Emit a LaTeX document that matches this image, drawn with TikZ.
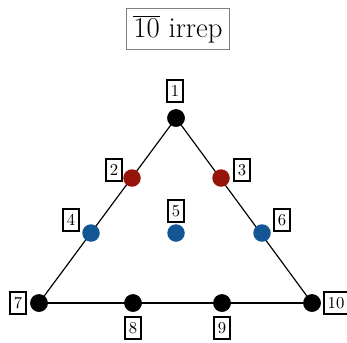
\documentclass[tikz,border=0pt]{standalone}
\begin{document}
\begin{tikzpicture}[x=0.6pt,y=-0.6pt,
  dot/.style={circle,fill=black,inner sep=0pt,minimum size=10.5pt},
  rdot/.style={dot,fill=myred},
  bdot/.style={dot,fill=myblue},
  lab/.style={draw=black,line width=0.9pt,inner xsep=2.2pt,inner ysep=3.4pt,text height=6.5pt,text depth=0pt,font=\normalsize},
  edge/.style={line width=0.7pt}]
\definecolor{myred}{RGB}{150,20,10}
\definecolor{myblue}{RGB}{20,85,150}
\useasboundingbox (0,0) rectangle (347,342);
\node[draw=gray,line width=0.7pt,inner xsep=4pt,inner ysep=4pt,font=\LARGE] (title) at (178,29) {$\overline{10}$ irrep};
\node[dot] (p1) at (176,118) {};
\node[dot] (p7) at (39,303) {};
\node[dot] (p10) at (312,303) {};
\node[dot] (p8) at (133,303) {};
\node[dot] (p9) at (222,303) {};
\draw[edge] (p7.center) -- (p1.center) -- (p10.center);
\draw[line width=1.1pt] (p7.center) -- (p10.center);
\node[dot] at (p1) {};
\node[dot] at (p7) {};
\node[dot] at (p10) {};
\node[dot] at (p8) {};
\node[dot] at (p9) {};
\node[rdot] (p2) at (132,178) {};
\node[rdot] (p3) at (221,178) {};
\node[bdot] (p4) at (91,233) {};
\node[bdot] (p5) at (176,233) {};
\node[bdot] (p6) at (262,233) {};
\node[lab] (l1) at (175,91) {1};
\node[lab] (l2) at (114,170) {2};
\node[lab] (l3) at (242,170) {3};
\node[lab] (l4) at (71,220) {4};
\node[lab] (l5) at (176,211) {5};
\node[lab] (l6) at (282,220) {6};
\node[lab] (l7) at (18,303) {7};
\node[lab] (l8) at (133,328) {8};
\node[lab] (l9) at (222,328) {9};
\node[lab] (l10) at (336,303) {10};
\end{tikzpicture}
\end{document}
